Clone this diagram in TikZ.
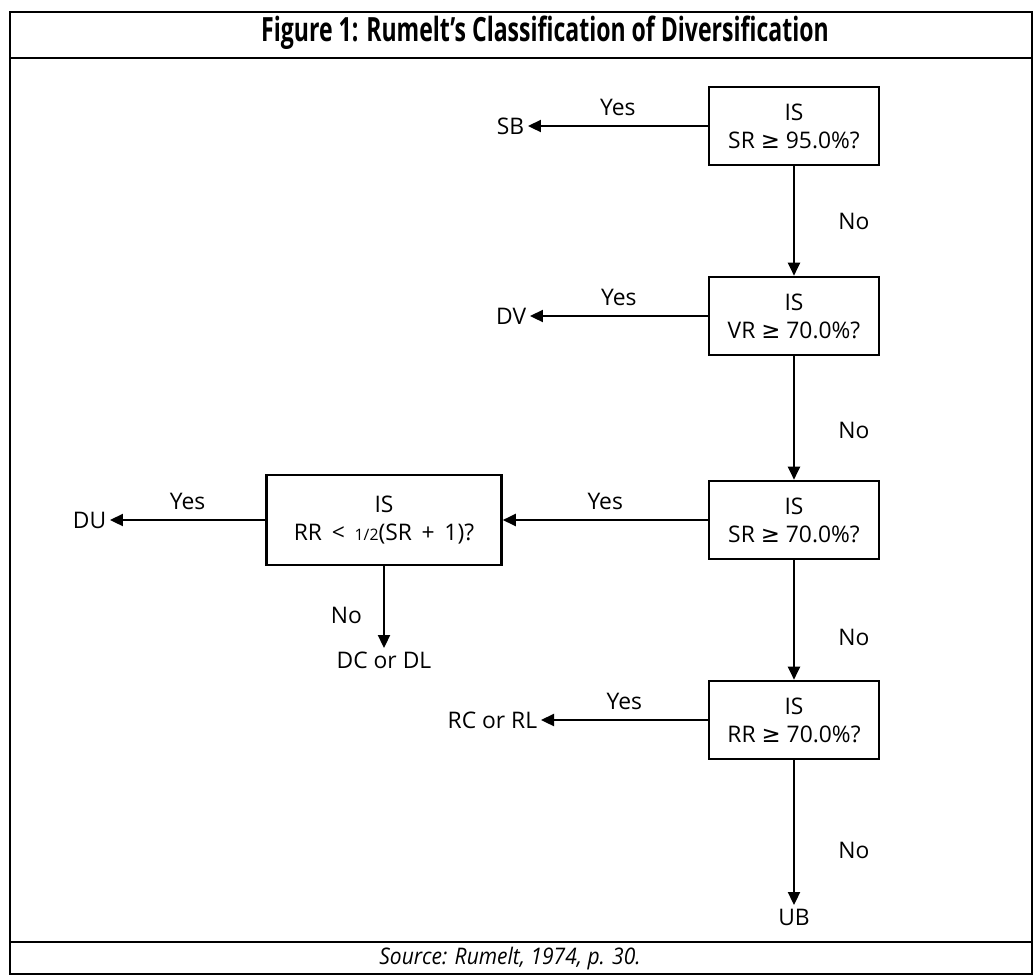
\documentclass[tikz,border=0pt]{standalone}
\usepackage{fontspec}
\usepackage{graphicx}
\setmainfont{Open Sans}
\newfontfamily\symfont{DejaVu Sans}
\usetikzlibrary{arrows.meta}
\newcommand{\gequal}{{\symfont\char"2265}}

\tikzset{
  test/.style={draw,line width=1.5pt,minimum width=3.4cm,minimum height=1.56cm,
    align=center,inner sep=2pt,font=\fontsize{13}{16}\selectfont},
  outcome/.style={inner sep=2pt,font=\fontsize{13}{15}\selectfont},
  answer/.style={font=\fontsize{13}{15}\selectfont},
  flow/.style={line width=1.3pt,-{Triangle[length=2.6mm,width=2.4mm]}},
  frame/.style={line width=1.6pt}
}

\begin{document}
\begin{tikzpicture}[x=0.02cm,y=-0.02cm]
  \useasboundingbox (0,0) rectangle (1036,978);
  %% Frame
  \draw[frame] (10,12) rectangle (1032,974);
  \draw[frame] (10,58) -- (1032,58);
  \draw[frame] (10,942) -- (1032,942);
  \node[font=\fontsize{19}{22}\selectfont\bfseries] (title) at (545,33)
    {\scalebox{0.69}[1]{Figure 1: Rumelt's Classification of Diversification}};
  \node[font=\fontsize{13}{15}\selectfont\itshape] (source) at (510,959)
    {\scalebox{0.92}[1]{Source: Rumelt, 1974, p. 30.}};
  %% Tests
  \node[test] (is1) at (794,126) {IS\\SR \gequal{} 95.0\%?};
  \node[test] (is2) at (794,316) {IS\\VR \gequal{} 70.0\%?};
  \node[test] (is3) at (794,520) {IS\\SR \gequal{} 70.0\%?};
  \node[test] (is4) at (794,720) {IS\\RR \gequal{} 70.0\%?};
  \node[test,minimum width=4.7cm,minimum height=1.8cm] (isrr) at (384,520)
    {IS\\RR \,<\, {\fontsize{9}{10}\selectfont 1/2}(SR \,+\, 1)?};
  %% Outcomes
  \node[outcome,anchor=east] (sb) at (528,126) {SB};
  \node[outcome,anchor=east] (dv) at (530,316) {DV};
  \node[outcome,anchor=east] (du) at (110,520) {DU};
  \node[outcome,anchor=north] (dcdl) at (384,648) {DC or DL};
  \node[outcome,anchor=east] (rcrl) at (541,720) {RC or RL};
  \node[outcome,anchor=north] (ub) at (794,905) {UB};
  %% Yes branches
  \draw[flow] (is1) -- (sb) node[answer,midway,above=2pt] {Yes};
  \draw[flow] (is2) -- (dv) node[answer,midway,above=2pt] {Yes};
  \draw[flow] (is3) -- (isrr) node[answer,midway,above=2pt] {Yes};
  \draw[flow] (isrr) -- (du) node[answer,midway,above=2pt] {Yes};
  \draw[flow] (is4) -- (rcrl) node[answer,midway,above=2pt] {Yes};
  %% No branches
  \draw[flow] (is1) -- (is2) node[answer,midway,right=0.75cm] {No};
  \draw[flow] (is2) -- (is3) node[answer,pos=0.6,right=0.75cm] {No};
  \draw[flow] (is3) -- (is4) node[answer,pos=0.65,right=0.75cm] {No};
  \draw[flow] (is4) -- (ub) node[answer,pos=0.62,right=0.75cm] {No};
  \draw[flow] (isrr) -- (dcdl) node[answer,pos=0.6,left=0.3cm] {No};
\end{tikzpicture}
\end{document}
